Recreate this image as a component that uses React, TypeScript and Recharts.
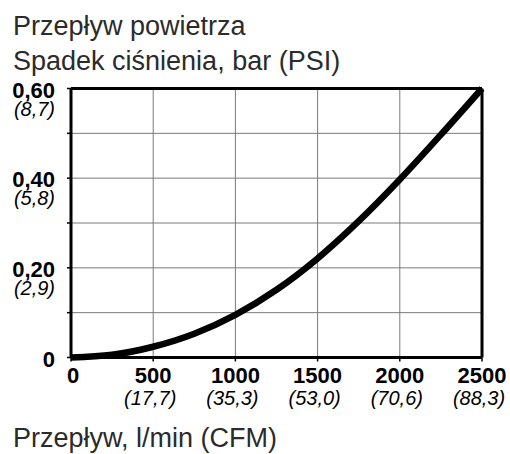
import React from "react";
import { LineChart, Line, XAxis, YAxis, CartesianGrid, ReferenceLine } from "recharts";

const flow = [0, 250, 500, 750, 1000, 1250, 1500, 1750, 2000, 2250, 2500];
const drop = [0, 0.006, 0.024, 0.053, 0.095, 0.151, 0.221, 0.304, 0.397, 0.497, 0.6];

const xTicks = [0, 500, 1000, 1500, 2000, 2500];
const xMain = ["0", "500", "1000", "1500", "2000", "2500"];
const xSub = ["", "(17,7)", "(35,3)", "(53,0)", "(70,6)", "(88,3)"];

const yTicks = [0, 0.1, 0.2, 0.3, 0.4, 0.5, 0.6];
const yMain = ["0", "", "0,20", "", "0,40", "", "0,60"];
const ySub = ["", "", "(2,9)", "", "(5,8)", "", "(8,7)"];

const titleLines = ["Przepływ powietrza", "Spadek ciśnienia, bar (PSI)"];
const xTitle = "Przepływ, l/min (CFM)";

const data = flow.map((f, i) => ({ flow: f, drop: drop[i] }));

const FONT = "'Liberation Sans', Arial, sans-serif";

const XTick = (props: any) => {
  const { x, y, payload } = props;
  const i = xTicks.indexOf(payload.value);
  return (
    <g>
      <text x={x + (i === 0 ? 2 : 0)} y={y + 21} textAnchor="middle" fontFamily={FONT} fontWeight="bold" fontSize={22} fill="#000">
        {xMain[i]}
      </text>
      {xSub[i] ? (
        <text x={x - 3} y={y + 43} textAnchor="middle" fontFamily={FONT} fontStyle="italic" fontSize={20} fill="#000">
          {xSub[i]}
        </text>
      ) : null}
    </g>
  );
};

const YTick = (props: any) => {
  const { x, y, payload } = props;
  const i = yTicks.findIndex((t) => Math.abs(t - payload.value) < 1e-9);
  return (
    <g>
      {yMain[i] ? (
        <text x={x} y={y + 9} textAnchor="end" fontFamily={FONT} fontWeight="bold" fontSize={22} fill="#000">
          {yMain[i]}
        </text>
      ) : null}
      {ySub[i] ? (
        <text x={x} y={y + 27} textAnchor="end" fontFamily={FONT} fontStyle="italic" fontSize={20} fill="#000">
          {ySub[i]}
        </text>
      ) : null}
    </g>
  );
};

export default function App() {
  return (
    <div style={{ position: "absolute", left: 0, top: 0, width: 510, height: 454, background: "#fff" }}>
      <LineChart
        width={510}
        height={454}
        data={data}
        margin={{ top: 88.5, right: 28, bottom: 0, left: 0 }}
      >
        <CartesianGrid stroke="#7a7a7a" strokeWidth={1} />
        <XAxis
          dataKey="flow"
          type="number"
          domain={[0, 2500]}
          ticks={xTicks}
          height={96.5}
          axisLine={{ stroke: "#000", strokeWidth: 3 }}
          tickLine={{ stroke: "#000", strokeWidth: 1.5 }}
          tickSize={4}
          tickMargin={0}
          tick={<XTick />}
          interval={0}
        />
        <YAxis
          type="number"
          domain={[0, 0.6]}
          ticks={yTicks}
          width={71}
          axisLine={{ stroke: "#000", strokeWidth: 3 }}
          tickLine={{ stroke: "#000", strokeWidth: 1.5 }}
          tickSize={4}
          tickMargin={12}
          tick={<YTick />}
          interval={0}
        />
        <ReferenceLine y={0.6} stroke="#000" strokeWidth={3} />
        <ReferenceLine x={2500} stroke="#000" strokeWidth={3} />
        <Line
          type="monotone"
          dataKey="drop"
          stroke="#000"
          strokeWidth={6.5}
          dot={false}
          isAnimationActive={false}
        />
      </LineChart>
      <svg width={510} height={454} style={{ position: "absolute", left: 0, top: 0, pointerEvents: "none" }}>
        <text x={13} y={35} fontFamily={FONT} fontSize={27} fill="#2b2b2b">{titleLines[0]}</text>
        <text x={13} y={70} fontFamily={FONT} fontSize={27} fill="#2b2b2b">{titleLines[1]}</text>
        <text x={13} y={447} fontFamily={FONT} fontSize={27} fill="#2b2b2b">{xTitle}</text>
      </svg>
    </div>
  );
}
